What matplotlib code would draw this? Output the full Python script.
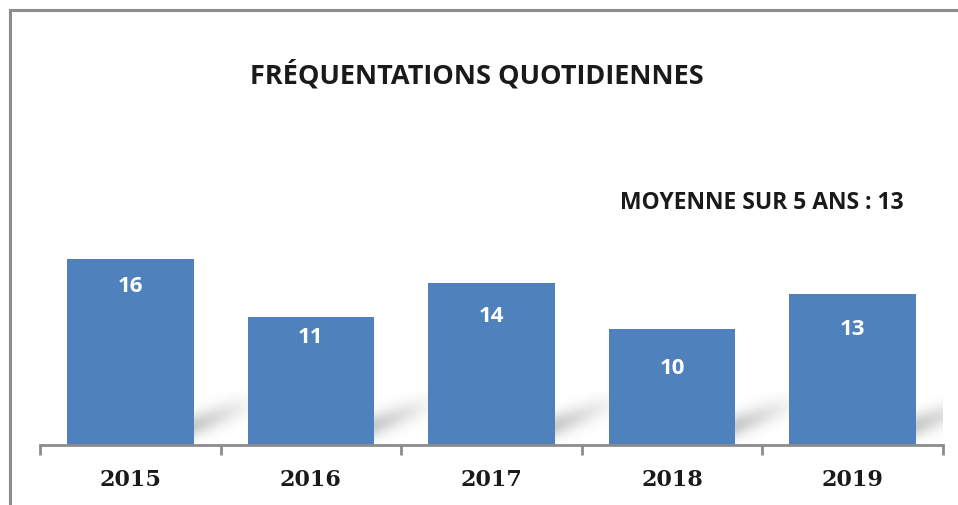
import numpy as np
import matplotlib
matplotlib.use("Agg")
import matplotlib.pyplot as plt
from matplotlib.lines import Line2D

annees = ["2015", "2016", "2017", "2018", "2019"]
frequentations = [16, 11, 14, 10, 13]
moyenne = 13
# position des étiquettes sous le haut de chaque barre (en unités)
decalage_etiquettes = [2.24, 1.64, 2.84, 3.28, 2.93]

W, H = 958, 506
fig = plt.figure(figsize=(W / 100, H / 100), dpi=100)
fig.patch.set_facecolor("white")

# cadre gris (coupé à droite et en bas)
fig.add_artist(Line2D([10 / W, 10 / W], [1 - 11 / H, 0], color="#8c8c8c", lw=2.2))
fig.add_artist(Line2D([10 / W, 1], [1 - 11 / H, 1 - 11 / H], color="#8c8c8c", lw=2.2))

ax = fig.add_axes([40 / W, 60 / H, 903 / W, 232 / H])
ax.set_xlim(-0.5, len(annees) - 0.5)
ax.set_ylim(0, 20)
ax.set_facecolor("none")

x = np.arange(len(annees))
larg = 0.7

# ombres portées (dégradé diagonal derrière chaque barre)
gx = np.linspace(0, 1, 120)
gy = np.linspace(0, 1, 80)
GX, GY = np.meshgrid(gx, gy)
for xi in x:
    x0, x1 = xi + larg / 2 - 0.02, xi + larg / 2 + 0.33
    y0, y1 = 0, 4.6
    d = GY - 0.33 - 0.45 * GX
    alpha = 0.45 * np.exp(-(d / 0.22) ** 2) * np.clip(1.1 - GX, 0, 1)
    img = np.zeros((len(gy), len(gx), 4))
    img[..., :3] = 0.55
    img[..., 3] = alpha
    ax.imshow(img, extent=(x0, x1, y0, y1), origin="lower", aspect="auto",
              interpolation="bilinear", zorder=1)

barres = ax.bar(x, frequentations, width=larg, color="#4f81bd", zorder=2)

for b, v, dec in zip(barres, frequentations, decalage_etiquettes):
    ax.text(b.get_x() + b.get_width() / 2, v - dec, str(v), ha="center", va="center",
            color="white", fontsize=16, fontweight="bold", family="Open Sans", zorder=3)

for s in ["top", "right", "left"]:
    ax.spines[s].set_visible(False)
ax.spines["bottom"].set_color("#8c8c8c")
ax.spines["bottom"].set_linewidth(2)
ax.set_yticks([])
ax.set_xticks(np.arange(-0.5, len(annees), 1.0))
ax.set_xticklabels([])
ax.tick_params(axis="x", length=7, width=2, color="#8c8c8c")
for xi, a in zip(x, annees):
    ax.text(xi, -2.9, a, ha="center", va="center", fontsize=16, fontweight="bold",
            family="DejaVu Serif", color="#1a1a1a")

fig.text(477 / W, 1 - 75 / H, "FRÉQUENTATIONS QUOTIDIENNES", ha="center", va="center",
         fontsize=19.5, fontweight="bold", family="Open Sans", color="#1a1a1a")
fig.text(762 / W, 1 - 203 / H, "MOYENNE SUR 5 ANS : %d" % moyenne, ha="center", va="center",
         fontsize=16.5, fontweight="bold", family="Open Sans", color="#1a1a1a")

fig.savefig("out.png", dpi=100, facecolor="white")
